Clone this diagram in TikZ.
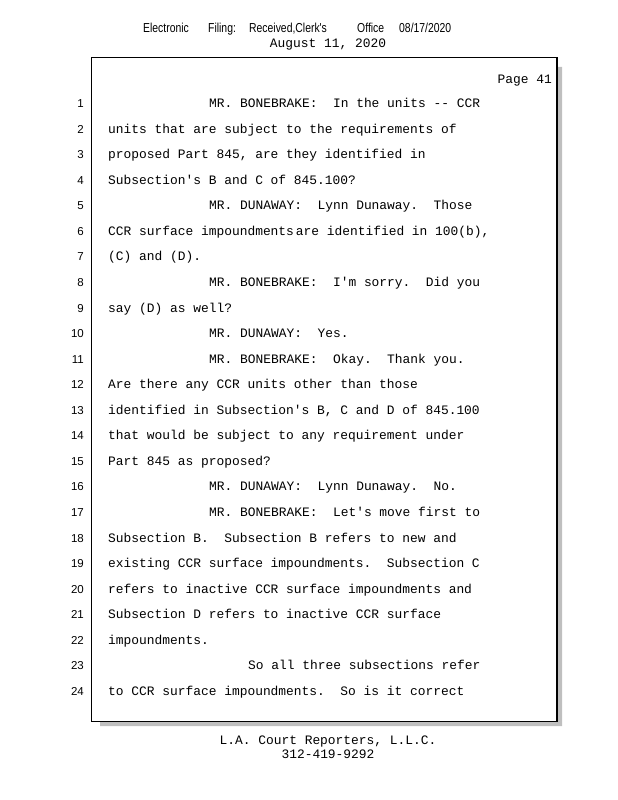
\documentclass[tikz,border=0pt]{standalone}
\usepackage{fontspec}
\usepackage{graphicx}
\setmainfont{Liberation Serif}
\setmonofont{Liberation Mono}
\newfontfamily\hdrfont{Liberation Sans}
\frenchspacing

\tikzset{
  txt/.style={anchor=base west, inner sep=0pt, font=\ttfamily\fontsize{12.9}{14}\selectfont},
  mid/.style={anchor=base, inner sep=0pt, font=\ttfamily\fontsize{12.9}{14}\selectfont},
  lnum/.style={anchor=base east, inner sep=0pt, font=\hdrfont\fontsize{11.5}{13}\selectfont},
  hdr/.style={anchor=base west, inner sep=0pt, font=\hdrfont\fontsize{13}{15}\selectfont}
}

\begin{document}
\begin{tikzpicture}[x=1pt, y=-1pt]
    \useasboundingbox (0,0) rectangle (618,800);
    % header
    \node[hdr] (e1) at (143,33) {\scalebox{0.8}[1]{Electronic}};
    \node[hdr] (e2) at (208,33) {\scalebox{0.8}[1]{Filing:}};
    \node[hdr] (e3) at (249,33) {\scalebox{0.8}[1]{Received,Clerk's}};
    \node[hdr] (e4) at (357,33) {\scalebox{0.8}[1]{Office}};
    \node[hdr] (e5) at (399,33) {\scalebox{0.8}[1]{08/17/2020}};
    \node[mid] (date) at (328,47.5) {August 11, 2020};
    % page box with shadow
    \fill[gray!50] (557,67) rectangle (562,726) (100,721) rectangle (562,726);
    \draw[line width=1.4pt, fill=white] (91.5,57.5) rectangle (557,721.5);
    \node[txt, anchor=base east] (page) at (552,83.5) {Page 41};
    % line numbers and text
    \foreach \n/\x/\t in {
      1/209/{MR. BONEBRAKE:~ In the units -- CCR},
      2/108/{units that are subject to the requirements of},
      3/108/{proposed Part 845, are they identified in},
      4/108/{Subsection's B and C of 845.100?},
      5/209/{MR. DUNAWAY:~ Lynn Dunaway.~ Those},
      6/108/{CCR surface impoundments\hspace{0.15em}are identified in 100(b),},
      7/108/{(C) and (D).},
      8/209/{MR. BONEBRAKE:~ I'm sorry.~ Did you},
      9/108/{say (D) as well?},
      10/209/{MR. DUNAWAY:~ Yes.},
      11/209/{MR. BONEBRAKE:~ Okay.~ Thank you.},
      12/108/{Are there any CCR units other than those},
      13/108/{identified in Subsection's B, C and D of 845.100},
      14/108/{that would be subject to any requirement under},
      15/108/{Part 845 as proposed?},
      16/209/{MR. DUNAWAY:~ Lynn Dunaway.~ No.},
      17/209/{MR. BONEBRAKE:~ Let's move first to},
      18/108/{Subsection B.~ Subsection B refers to new and},
      19/108/{existing CCR surface impoundments.~ Subsection C},
      20/108/{refers to inactive CCR surface impoundments and},
      21/108/{Subsection D refers to inactive CCR surface},
      22/108/{impoundments.},
      23/248/{So all three subsections refer},
      24/108/{to CCR surface impoundments.~ So is it correct}}
    {
      \node[lnum] (n\n) at (84,{107.5+(\n-1)*25.565}) {\n};
      \node[txt] (l\n) at (\x,{107.5+(\n-1)*25.565}) {\t};
    }
    % footer
    \node[mid] (rep) at (328,744.5) {L.A. Court Reporters, L.L.C.};
    \node[mid] (tel) at (328,758.5) {312-419-9292};
\end{tikzpicture}
\end{document}
